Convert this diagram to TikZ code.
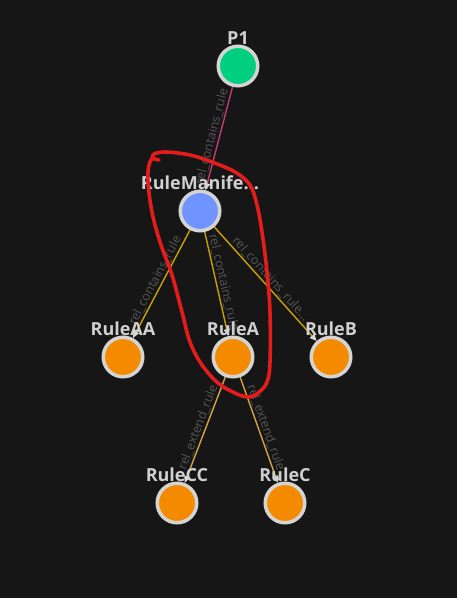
\documentclass[tikz,border=0pt]{standalone}
\usepackage{fontspec}
\setmainfont{Open Sans}
\usetikzlibrary{arrows.meta,backgrounds}
\definecolor{bgdark}{HTML}{161616}
\definecolor{ringgray}{HTML}{D4D4D4}
\definecolor{labelgray}{HTML}{D0D0D0}
\definecolor{relgray}{HTML}{555555}
\definecolor{tipgray}{HTML}{D8D8D8}
\definecolor{pkggreen}{HTML}{00CF7F}
\definecolor{manifestblue}{HTML}{7094FF}
\definecolor{ruleorange}{HTML}{F38A00}
\definecolor{edgepink}{HTML}{C23C78}
\definecolor{edgegold}{HTML}{C9A200}
\definecolor{edgetan}{HTML}{D6A348}
\definecolor{penred}{HTML}{E41C1C}
\tikzset{
  entity/.style={circle, draw=ringgray, line width=3.5pt, minimum size=39.5pt, inner sep=0pt,
    label={[font=\fontsize{18}{18}\bfseries\selectfont, text=labelgray, inner sep=1pt, label distance=-1pt]90:#1}},
  rel/.style={-{Triangle[length=7pt,width=6pt,color=tipgray]}, line width=1.4pt},
  rellabel/.style={midway, sloped, above, inner sep=1pt, font=\fontsize{12.5}{12.5}\selectfont, text=relgray}
}
\begin{document}
\begin{tikzpicture}[x=1pt,y=-1pt]
  \useasboundingbox (0,0) rectangle (457,598);

  \node[entity={P1}, fill=pkggreen] (p1) at (238,66) {};
  \node[entity={RuleManife...}, fill=manifestblue] (manifest) at (200,211) {};
  \node[entity={RuleAA}, fill=ruleorange] (ruleaa) at (123,357) {};
  \node[entity={RuleA}, fill=ruleorange] (rulea) at (233,357) {};
  \node[entity={RuleB}, fill=ruleorange] (ruleb) at (331,357) {};
  \node[entity={RuleCC}, fill=ruleorange] (rulecc) at (177,503) {};
  \node[entity={RuleC}, fill=ruleorange] (rulec) at (285,503) {};

  \begin{scope}[on background layer]
    \fill[bgdark] (0,0) rectangle (457,598);
    \draw[rel, draw=edgepink] (p1) -- (manifest) node[rellabel] {rel\_contains\_rule};
    \draw[rel, draw=edgegold] (manifest) -- (ruleaa) node[rellabel] {rel\_contains\_rule};
    \draw[rel, draw=edgegold] (manifest) -- (rulea) node[rellabel] {rel\_contains\_rule};
    \draw[rel, draw=edgegold] (manifest) -- (ruleb) node[rellabel] {rel\_contains\_rule...};
    \draw[rel, draw=edgetan] (rulea) -- (rulecc) node[rellabel] {rel\_extend\_rule};
    \draw[rel, draw=edgetan] (rulea) -- (rulec) node[rellabel] {rel\_extend\_rule};
  \end{scope}

  % hand-drawn mark
  \draw[penred, line width=3.6pt, line cap=round, line join=round] plot[smooth, tension=0.6] coordinates {
    (159,160) (153,158) (154,154) (166,152) (190,155) (212,162) (235,172) (250,185)
    (257,205) (262,232) (267,272) (270,312) (270,362) (267,382) (258,393) (248,397)
    (235,393) (218,383) (202,365) (190,342) (182,312) (172,275) (160,242) (152,212)
    (148,182) (149,165) (153,157)};
\end{tikzpicture}
\end{document}
